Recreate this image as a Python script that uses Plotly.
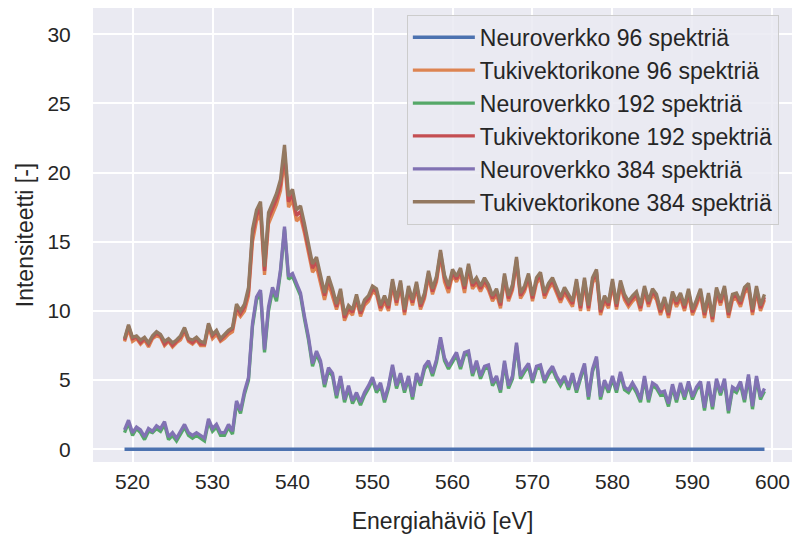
import plotly.graph_objects as go

# Energy-loss sample grid (eV), 519.0 ... 599.0 in 0.5 eV steps
energy = [519.0 + 0.5 * i for i in range(161)]

neuro_96 = [
    0, 0, 0, 0, 0, 0, 0, 0, 0, 0, 0, 0, 0, 0, 0, 0, 0, 0, 0, 0,
    0, 0, 0, 0, 0, 0, 0, 0, 0, 0, 0, 0, 0, 0, 0, 0, 0, 0, 0, 0,
    0, 0, 0, 0, 0, 0, 0, 0, 0, 0, 0, 0, 0, 0, 0, 0, 0, 0, 0, 0,
    0, 0, 0, 0, 0, 0, 0, 0, 0, 0, 0, 0, 0, 0, 0, 0, 0, 0, 0, 0,
    0, 0, 0, 0, 0, 0, 0, 0, 0, 0, 0, 0, 0, 0, 0, 0, 0, 0, 0, 0,
    0, 0, 0, 0, 0, 0, 0, 0, 0, 0, 0, 0, 0, 0, 0, 0, 0, 0, 0, 0,
    0, 0, 0, 0, 0, 0, 0, 0, 0, 0, 0, 0, 0, 0, 0, 0, 0, 0, 0, 0,
    0, 0, 0, 0, 0, 0, 0, 0, 0, 0, 0, 0, 0, 0, 0, 0, 0, 0, 0, 0,
    0,
]

tuki_96 = [
    7.8, 8.7, 7.8, 8.0, 7.6, 7.9, 7.4, 8.0, 8.2, 8.1,
    7.5, 7.8, 7.4, 7.7, 7.9, 8.5, 7.8, 7.6, 7.9, 7.5,
    7.5, 8.8, 8.0, 8.3, 7.8, 8.0, 8.3, 8.5, 10.0, 9.6,
    10.0, 11.1, 15.0, 16.5, 17.1, 12.6, 16.3, 17.0, 17.7, 18.7,
    21.0, 17.5, 18.0, 16.5, 16.8, 15.6, 14.2, 12.8, 13.2, 12.1,
    10.8, 12.0, 11.1, 10.1, 11.1, 9.3, 10.0, 9.7, 10.8, 9.6,
    10.4, 10.7, 11.4, 11.2, 10.0, 10.7, 10.0, 11.9, 10.4, 11.8,
    9.7, 11.4, 10.4, 11.7, 10.1, 10.9, 12.5, 11.2, 12.1, 14.0,
    12.1, 11.3, 12.6, 12.1, 12.7, 11.3, 13.0, 11.6, 12.0, 11.4,
    12.0, 11.5, 10.7, 11.2, 10.2, 12.3, 10.7, 11.5, 13.5, 10.9,
    11.4, 12.3, 10.7, 12.0, 12.4, 10.9, 11.6, 12.0, 11.3, 10.6,
    11.3, 10.8, 10.3, 11.9, 10.0, 12.0, 10.0, 12.0, 12.6, 9.7,
    10.7, 10.2, 11.9, 10.1, 11.8, 10.8, 10.3, 10.7, 11.0, 10.0,
    11.4, 10.3, 11.2, 10.8, 9.7, 10.6, 9.5, 11.0, 10.3, 10.9,
    10.0, 11.2, 9.7, 10.4, 11.2, 9.5, 10.9, 9.2, 11.3, 10.4,
    11.4, 9.5, 10.8, 10.9, 10.3, 11.3, 11.6, 9.7, 11.4, 10.0,
    10.8,
]

neuro_192 = [
    1.2, 1.9, 1.0, 1.5, 1.2, 0.7, 1.3, 1.2, 1.5, 1.3,
    1.8, 0.7, 1.0, 0.6, 1.1, 1.6, 1.0, 0.8, 1.0, 0.8,
    0.6, 2.0, 1.3, 1.6, 1.0, 1.0, 1.6, 1.1, 3.3, 2.6,
    4.0, 5.0, 8.9, 10.8, 11.3, 7.0, 10.0, 11.5, 10.7, 12.8,
    15.9, 12.3, 12.5, 11.8, 11.1, 9.4, 7.9, 6.0, 6.9, 6.2,
    4.5, 5.7, 5.3, 3.7, 5.1, 3.4, 4.4, 3.3, 3.9, 3.2,
    3.9, 4.4, 5.0, 4.1, 4.6, 3.4, 4.4, 5.9, 4.4, 5.3,
    4.1, 5.1, 3.6, 5.3, 4.6, 5.8, 6.2, 5.3, 6.3, 7.9,
    6.4, 5.8, 6.3, 6.8, 5.8, 6.8, 6.9, 5.3, 6.2, 5.1,
    5.8, 5.9, 4.6, 5.1, 4.1, 6.2, 4.4, 5.1, 7.5, 5.1,
    5.6, 6.0, 4.8, 5.8, 5.9, 4.8, 5.4, 5.8, 5.1, 4.6,
    5.1, 4.3, 5.3, 4.1, 5.1, 6.0, 3.6, 5.6, 6.5, 3.6,
    4.8, 4.1, 5.1, 4.1, 5.4, 4.3, 4.1, 4.6, 4.1, 3.4,
    5.1, 3.4, 4.6, 4.4, 3.9, 4.0, 3.1, 4.5, 3.4, 4.6,
    3.6, 4.7, 3.6, 4.3, 4.7, 2.8, 4.7, 2.9, 4.9, 3.9,
    4.9, 2.6, 4.3, 4.1, 4.7, 3.4, 5.2, 2.9, 5.1, 3.6,
    4.2,
]

tuki_192 = [
    7.9, 8.9, 8.0, 8.1, 7.7, 8.0, 7.6, 8.1, 8.4, 8.2,
    7.6, 7.9, 7.5, 7.8, 8.1, 8.7, 7.9, 7.7, 8.0, 7.6,
    7.6, 9.0, 8.2, 8.5, 7.9, 8.2, 8.5, 8.7, 10.3, 9.8,
    10.3, 11.4, 15.5, 16.9, 17.5, 12.9, 16.7, 17.4, 18.1, 19.1,
    21.5, 17.9, 18.4, 16.9, 17.2, 15.9, 14.5, 13.1, 13.6, 12.4,
    11.1, 12.3, 11.4, 10.3, 11.4, 9.5, 10.2, 9.9, 11.0, 9.8,
    10.6, 10.9, 11.6, 11.4, 10.2, 10.9, 10.2, 12.1, 10.6, 12.0,
    9.9, 11.6, 10.6, 11.9, 10.3, 11.1, 12.7, 11.4, 12.3, 14.2,
    12.4, 11.6, 12.8, 12.3, 12.9, 11.6, 13.2, 11.8, 12.2, 11.6,
    12.2, 11.7, 10.9, 11.4, 10.4, 12.5, 10.9, 11.7, 13.7, 11.1,
    11.6, 12.5, 10.9, 12.2, 12.6, 11.1, 11.8, 12.2, 11.5, 10.8,
    11.5, 11.0, 10.5, 12.1, 10.2, 12.2, 10.2, 12.2, 12.8, 9.9,
    10.9, 10.4, 12.1, 10.3, 12.0, 11.0, 10.5, 10.9, 11.2, 10.2,
    11.6, 10.5, 11.4, 11.0, 9.9, 10.8, 9.7, 11.2, 10.5, 11.1,
    10.2, 11.4, 9.9, 10.6, 11.4, 9.7, 11.1, 9.4, 11.5, 10.6,
    11.6, 9.7, 11.0, 11.1, 10.5, 11.5, 11.8, 9.9, 11.6, 10.2,
    11.0,
]

neuro_384 = [
    1.4, 2.1, 1.2, 1.6, 1.4, 0.9, 1.5, 1.3, 1.7, 1.5,
    2.0, 0.9, 1.2, 0.8, 1.3, 1.8, 1.2, 1.0, 1.2, 1.0,
    0.8, 2.2, 1.5, 1.8, 1.2, 1.2, 1.8, 1.3, 3.5, 2.8,
    4.2, 5.2, 9.1, 11.0, 11.5, 7.2, 10.3, 11.7, 11.0, 13.0,
    16.1, 12.5, 12.7, 12.0, 11.3, 9.6, 8.1, 6.2, 7.1, 6.4,
    4.7, 5.9, 5.5, 3.9, 5.3, 3.6, 4.6, 3.5, 4.1, 3.4,
    4.1, 4.6, 5.2, 4.3, 4.8, 3.6, 4.6, 6.1, 4.6, 5.5,
    4.3, 5.3, 3.8, 5.5, 4.8, 6.0, 6.4, 5.5, 6.5, 8.1,
    6.6, 6.0, 6.5, 7.0, 6.0, 7.0, 7.1, 5.5, 6.4, 5.3,
    6.0, 6.1, 4.8, 5.3, 4.3, 6.4, 4.6, 5.3, 7.7, 5.3,
    5.8, 6.2, 5.0, 6.0, 6.1, 5.0, 5.6, 6.0, 5.3, 4.8,
    5.3, 4.5, 5.5, 4.3, 5.3, 6.2, 3.8, 5.8, 6.7, 3.8,
    5.0, 4.3, 5.3, 4.3, 5.6, 4.5, 4.3, 4.8, 4.3, 3.6,
    5.3, 3.6, 4.8, 4.6, 4.1, 4.2, 3.3, 4.7, 3.6, 4.8,
    3.8, 4.9, 3.8, 4.5, 4.9, 3.0, 4.9, 3.1, 5.1, 4.1,
    5.1, 2.8, 4.5, 4.3, 4.9, 3.6, 5.4, 3.1, 5.3, 3.8,
    4.4,
]

tuki_384 = [
    8.0, 9.0, 8.1, 8.2, 7.9, 8.1, 7.7, 8.2, 8.5, 8.3,
    7.8, 8.0, 7.7, 7.9, 8.2, 8.8, 8.0, 7.9, 8.1, 7.8,
    7.7, 9.1, 8.3, 8.6, 8.0, 8.3, 8.6, 8.8, 10.5, 10.0,
    10.5, 11.7, 15.9, 17.3, 17.9, 13.2, 17.1, 17.8, 18.5, 19.5,
    22.0, 18.3, 18.8, 17.3, 17.6, 16.3, 14.9, 13.4, 13.9, 12.7,
    11.3, 12.5, 11.6, 10.5, 11.6, 9.7, 10.4, 10.1, 11.2, 10.0,
    10.8, 11.1, 11.8, 11.6, 10.4, 11.1, 10.4, 12.3, 10.8, 12.2,
    10.1, 11.8, 10.8, 12.1, 10.5, 11.3, 12.9, 11.6, 12.5, 14.4,
    12.6, 11.8, 13.0, 12.5, 13.1, 11.8, 13.4, 12.0, 12.4, 11.8,
    12.4, 11.9, 11.1, 11.6, 10.6, 12.7, 11.1, 11.9, 13.9, 11.3,
    11.8, 12.7, 11.1, 12.4, 12.8, 11.3, 12.0, 12.4, 11.7, 11.0,
    11.7, 11.2, 10.7, 12.3, 10.4, 12.4, 10.4, 12.4, 13.0, 10.1,
    11.1, 10.6, 12.3, 10.5, 12.2, 11.2, 10.7, 11.1, 11.4, 10.4,
    11.8, 10.7, 11.6, 11.2, 10.1, 11.0, 9.9, 11.4, 10.7, 11.3,
    10.4, 11.6, 10.1, 10.8, 11.6, 9.9, 11.3, 9.6, 11.7, 10.8,
    11.8, 9.9, 11.2, 11.3, 10.7, 11.7, 12.0, 10.1, 11.8, 10.4,
    11.2,
]

series = [
    ("Neuroverkko 96 spektriä", neuro_96, "#4C72B0"),
    ("Tukivektorikone 96 spektriä", tuki_96, "#DD8452"),
    ("Neuroverkko 192 spektriä", neuro_192, "#55A868"),
    ("Tukivektorikone 192 spektriä", tuki_192, "#C44E52"),
    ("Neuroverkko 384 spektriä", neuro_384, "#8172B3"),
    ("Tukivektorikone 384 spektriä", tuki_384, "#937860"),
]

x_ticks = [520, 530, 540, 550, 560, 570, 580, 590, 600]
y_ticks = [0, 5, 10, 15, 20, 25, 30]

fig = go.Figure()
for name, vals, color in series:
    fig.add_trace(go.Scatter(
        x=energy, y=vals, name=name, mode="lines",
        line=dict(color=color, width=3.3),
    ))

font_family = "Liberation Sans, Arial, sans-serif"
fig.update_layout(
    width=792, height=540,
    margin=dict(l=93, r=0, t=8, b=78),
    paper_bgcolor="white",
    plot_bgcolor="#EAEAF2",
    font=dict(family=font_family, color="#262626", size=21),
    showlegend=True,
    legend=dict(
        x=0.449, y=0.985, xanchor="left", yanchor="top",
        bgcolor="rgba(234,234,242,0.85)",
        bordercolor="#CCCCCC", borderwidth=1,
        font=dict(size=23, family=font_family, color="#262626"),
        itemwidth=62,
    ),
    xaxis=dict(
        range=[515.06, 602.44],
        tickvals=x_ticks,
        ticktext=[str(v) for v in x_ticks],
        showgrid=True, gridcolor="white", gridwidth=2,
        zeroline=False, showline=False,
        ticks="outside", ticklen=1, tickcolor="rgba(0,0,0,0)",
        tickfont=dict(size=21),
        title=dict(text="Energiahäviö [eV]", font=dict(size=23), standoff=20),
        automargin=False,
    ),
    yaxis=dict(
        range=[-0.92, 31.9],
        tickvals=y_ticks,
        ticktext=[str(v) for v in y_ticks],
        showgrid=True, gridcolor="white", gridwidth=2,
        zeroline=False, showline=False,
        ticks="outside", ticklen=17, tickcolor="rgba(0,0,0,0)",
        tickfont=dict(size=21),
        title=dict(text="Intensiteetti [-]", font=dict(size=23), standoff=7),
        automargin=False,
    ),
)

fig.write_html("out.html")
